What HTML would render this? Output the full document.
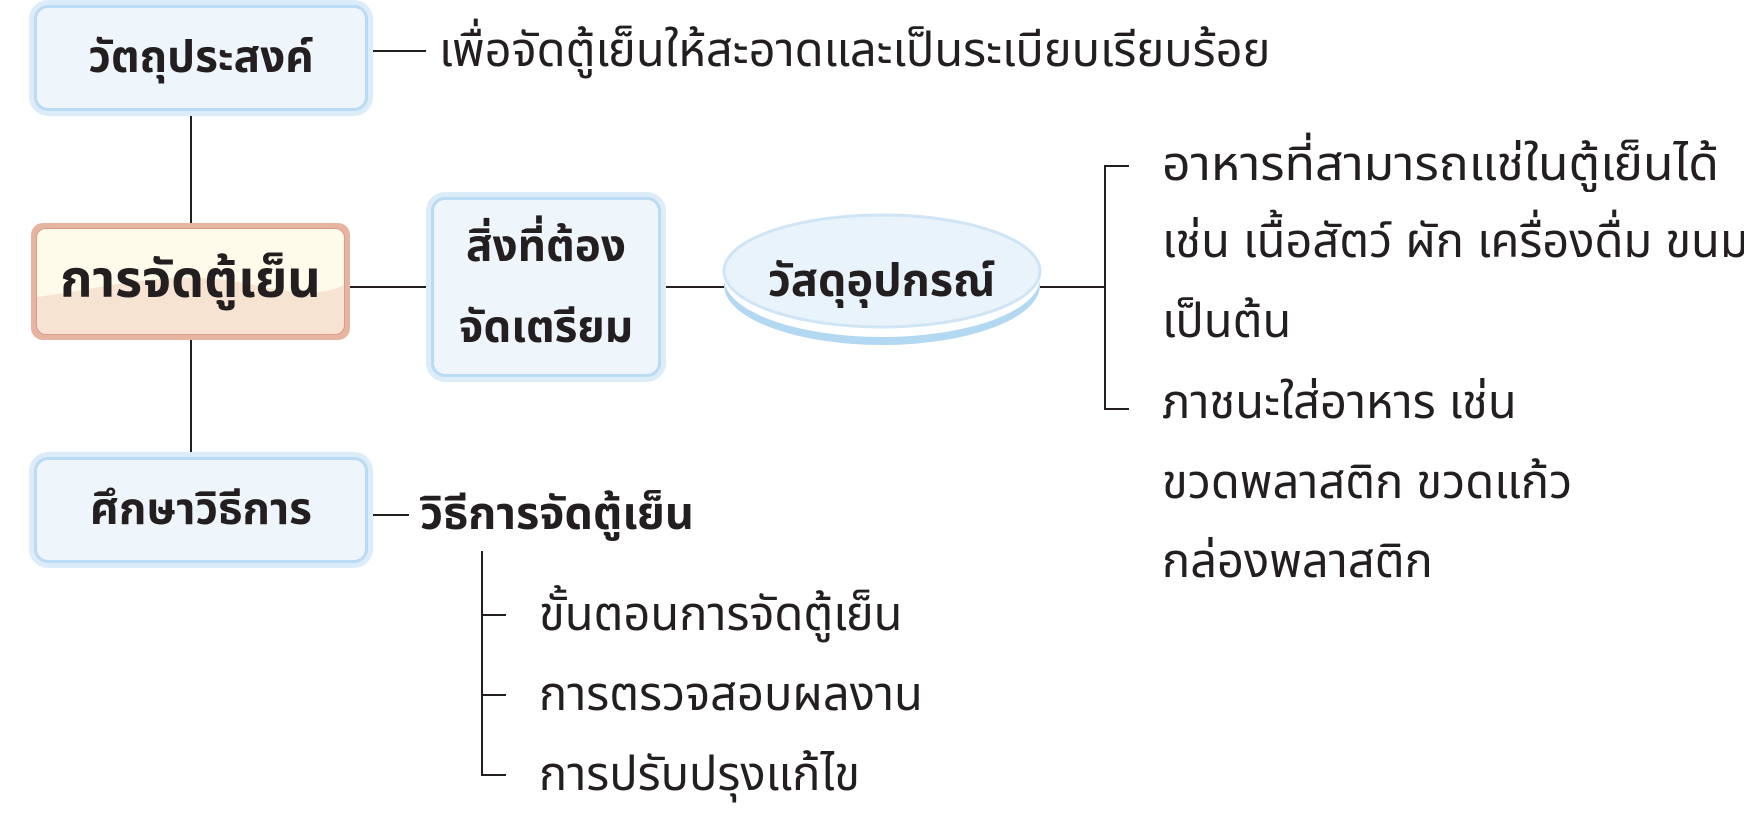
<!DOCTYPE html>
<html><head><meta charset="utf-8"><style>
body{margin:0;width:1744px;height:817px;background:#fff;position:relative;overflow:hidden;font-family:"Liberation Sans","Noto Sans Thai","Loma","Garuda","DejaVu Sans",sans-serif;color:#231f20}
.a{position:absolute}
.box{position:absolute;background:#eef6fb;border:3px solid #b9dcf2;border-radius:14px;box-shadow:0 0 0 5px #dcecf8;display:flex;align-items:center;justify-content:center;text-align:center;font-weight:bold;font-size:44px;line-height:1.55}
.ln{position:absolute;background:#231f20}
.t{position:absolute;font-size:47px;white-space:nowrap;line-height:1}
</style></head><body>
<div class="ln" style="left:190px;top:111px;width:2px;height:112px"></div>
<div class="ln" style="left:190px;top:340px;width:2px;height:114px"></div>
<div class="ln" style="left:369px;top:50px;width:57px;height:2px"></div>
<div class="ln" style="left:350px;top:286px;width:78px;height:2px"></div>
<div class="ln" style="left:660px;top:286px;width:64px;height:2px"></div>
<div class="ln" style="left:1040px;top:286px;width:64px;height:2px"></div>
<div class="ln" style="left:1104px;top:165px;width:2px;height:245px"></div>
<div class="ln" style="left:1104px;top:165px;width:25px;height:2px"></div>
<div class="ln" style="left:1104px;top:408px;width:25px;height:2px"></div>
<div class="ln" style="left:369px;top:514px;width:40px;height:2px"></div>
<div class="ln" style="left:481px;top:551px;width:2px;height:225px"></div>
<div class="ln" style="left:481px;top:614px;width:25px;height:2px"></div>
<div class="ln" style="left:481px;top:694px;width:25px;height:2px"></div>
<div class="ln" style="left:481px;top:774px;width:25px;height:2px"></div>

<div class="box" style="left:34px;top:5px;width:328px;height:100px">วัตถุประสงค์</div>
<div class="box" style="left:34px;top:457px;width:328px;height:100px">ศึกษาวิธีการ</div>
<div class="box" style="left:431px;top:197px;width:224px;height:174px;line-height:1.85">สิ่งที่ต้อง<br>จัดเตรียม</div>

<div class="a" style="left:31px;top:223px;width:319px;height:117px;border-radius:12px;background:#e6b4a0"></div>
<div class="a" style="left:36px;top:228px;width:309px;height:107px;border-radius:10px;overflow:hidden;background:#f6e3d2;border:1px solid #d99c8a;box-sizing:border-box">
<svg width="309" height="107" class="a" style="left:0;top:0"><path d="M0 0H309V55C270 75 230 55 180 50C120 44 60 60 0 68Z" fill="#fffbeb"/></svg>
</div>
<div class="t" style="left:31px;top:254px;width:319px;text-align:center;font-weight:bold;font-size:52px">การจัดตู้เย็น</div>

<svg class="a" style="left:720px;top:212px" width="325" height="140">
<ellipse cx="162" cy="73" rx="158" ry="60" fill="#b3d9f2"/>
<ellipse cx="162" cy="66" rx="158" ry="59" fill="#fff"/>
<ellipse cx="162" cy="59" rx="158" ry="56" fill="#e8f3fb" stroke="#cfe5f5" stroke-width="3"/>
</svg>
<div class="t" style="left:723px;top:258px;width:317px;text-align:center;font-weight:bold;font-size:45px">วัสดุอุปกรณ์</div>

<div class="t" style="left:439px;top:26px">เพื่อจัดตู้เย็นให้สะอาดและเป็นระเบียบเรียบร้อย</div>
<div class="t" style="left:1162px;top:140px;transform:scaleX(1.06);transform-origin:left">อาหารที่สามารถแช่ในตู้เย็นได้</div>
<div class="t" style="left:1162px;top:217px">เช่น เนื้อสัตว์ ผัก เครื่องดื่ม ขนม</div>
<div class="t" style="left:1162px;top:297px">เป็นต้น</div>
<div class="t" style="left:1162px;top:378px">ภาชนะใส่อาหาร เช่น</div>
<div class="t" style="left:1162px;top:458px">ขวดพลาสติก ขวดแก้ว</div>
<div class="t" style="left:1162px;top:537px">กล่องพลาสติก</div>
<div class="t" style="left:420px;top:491px;font-size:45px;font-weight:bold">วิธีการจัดตู้เย็น</div>
<div class="t" style="left:539px;top:590px">ขั้นตอนการจัดตู้เย็น</div>
<div class="t" style="left:539px;top:670px">การตรวจสอบผลงาน</div>
<div class="t" style="left:539px;top:750px">การปรับปรุงแก้ไข</div>
</body></html>
